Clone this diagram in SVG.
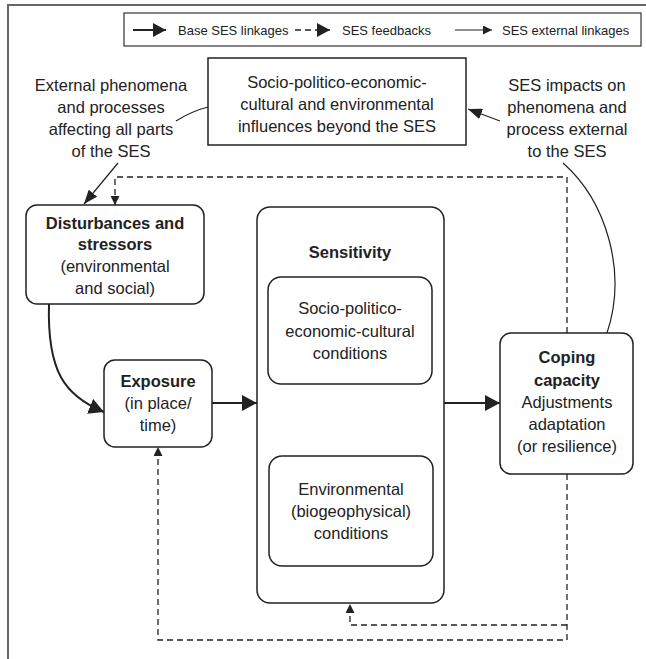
<svg xmlns="http://www.w3.org/2000/svg" width="646" height="659" viewBox="0 0 646 659">
<defs>
<style>
text{font-family:"Liberation Sans",Arial,sans-serif;font-size:16.5px;fill:#222;text-anchor:middle}
.b{font-weight:bold}
.lg{font-size:13px;text-anchor:start}
.box{fill:#fff;stroke:#222;stroke-width:1.5}
.base{fill:none;stroke:#222;stroke-width:2}
.fb{fill:none;stroke:#222;stroke-width:1.3;stroke-dasharray:6 4}
.ext{fill:none;stroke:#222;stroke-width:1.2}
</style>
<marker id="mb" markerUnits="userSpaceOnUse" markerWidth="16" markerHeight="16" refX="15" refY="8" orient="auto-start-reverse"><path d="M0,0 L15,8 L0,16 z" fill="#222"/></marker>
<marker id="mf" markerUnits="userSpaceOnUse" markerWidth="9" markerHeight="9" refX="9" refY="4.5" orient="auto"><path d="M0,0 L9,4.5 L0,9 z" fill="#222"/></marker>
<marker id="mfl" markerUnits="userSpaceOnUse" markerWidth="14" markerHeight="14" refX="13" refY="7" orient="auto"><path d="M0,0 L13,7 L0,14 z" fill="#222"/></marker>
<marker id="me" markerUnits="userSpaceOnUse" markerWidth="14" markerHeight="11" refX="14" refY="5.5" orient="auto"><path d="M0,0 L14,5.5 L0,11 z" fill="#222"/></marker>
</defs>
<rect width="646" height="659" fill="#fff"/>
<path d="M8,659 L8,5 L646,5" fill="none" stroke="#666" stroke-width="2"/>

<g id="legend">
<rect x="124" y="13" width="517" height="33" fill="#fff" stroke="#333" stroke-width="1.2"/>
<path d="M133,30 L166,30" class="base" marker-end="url(#mfl)"/>
<text class="lg" x="178" y="35">Base SES linkages</text>
<path d="M295,30 L330,30" class="fb" stroke-width="2" marker-end="url(#mfl)"/>
<text class="lg" x="342" y="35">SES feedbacks</text>
<path d="M455,30 L492,30" class="ext" marker-end="url(#mf)"/>
<text class="lg" x="502" y="35">SES external linkages</text>
</g>

<g id="connectors">
<path d="M208,107 Q192,111 176,121" class="ext"/>
<path d="M118,163 L84,204" class="ext" stroke-width="1.4" marker-end="url(#me)"/>
<path d="M500,121 L468,109" class="ext" stroke-width="1.4" marker-end="url(#me)"/>
<path d="M607,333 C628,270 605,200 563,163" class="ext"/>
<path d="M49,304 C47,372 65,396 104,412" class="base" marker-end="url(#mb)"/>
<path d="M212,403 L257,403" class="base" marker-end="url(#mb)"/>
<path d="M444,403 L500,403" class="base" marker-end="url(#mb)"/>
<path d="M350,384 L350,456" class="base" marker-start="url(#mb)" marker-end="url(#mb)"/>
<path d="M567,333 L567,177 L115,177 L115,205" class="fb" marker-end="url(#mf)"/>
<path d="M567,474 L567,640 L158,640 L158,447" class="fb" marker-end="url(#mf)"/>
<path d="M567,625 L350,625 L350,604" class="fb" marker-end="url(#mf)"/>
</g>

<g id="external-left">
<text x="111" y="91">External phenomena</text>
<text x="111" y="113">and processes</text>
<text x="111" y="135">affecting all parts</text>
<text x="111" y="157">of the SES</text>
</g>

<g id="external-influences">
<rect class="box" x="208" y="58" width="258" height="87"/>
<text x="337" y="88">Socio-politico-economic-</text>
<text x="337" y="110">cultural and environmental</text>
<text x="337" y="132">influences beyond the SES</text>
</g>

<g id="external-right">
<text x="567" y="91">SES impacts on</text>
<text x="567" y="113">phenomena and</text>
<text x="567" y="135">process external</text>
<text x="567" y="157">to the SES</text>
</g>

<g id="disturbances">
<rect class="box" x="26" y="205" width="178" height="99" rx="11"/>
<text class="b" x="115" y="229">Disturbances and</text>
<text class="b" x="115" y="250">stressors</text>
<text x="115" y="272">(environmental</text>
<text x="115" y="294">and social)</text>
</g>

<g id="exposure">
<rect class="box" x="104" y="360" width="108" height="87" rx="11"/>
<text class="b" x="158" y="387">Exposure</text>
<text x="158" y="409">(in place/</text>
<text x="158" y="431">time)</text>
</g>

<g id="sensitivity">
<rect class="box" x="257" y="207" width="187" height="396" rx="13"/>
<text class="b" x="350" y="258">Sensitivity</text>
</g>

<g id="socio-conditions">
<rect class="box" x="268" y="277" width="164" height="107" rx="13"/>
<text x="350" y="314">Socio-politico-</text>
<text x="350" y="337">economic-cultural</text>
<text x="350" y="359">conditions</text>
</g>

<g id="environmental-conditions">
<rect class="box" x="269" y="456" width="164" height="110" rx="13"/>
<text x="351" y="495">Environmental</text>
<text x="351" y="517">(biogeophysical)</text>
<text x="351" y="539">conditions</text>
</g>

<g id="coping">
<rect class="box" x="500" y="333" width="133" height="141" rx="11"/>
<text class="b" x="567" y="363">Coping</text>
<text class="b" x="567" y="386">capacity</text>
<text x="567" y="408">Adjustments</text>
<text x="567" y="430">adaptation</text>
<text x="567" y="452">(or resilience)</text>
</g>
</svg>
